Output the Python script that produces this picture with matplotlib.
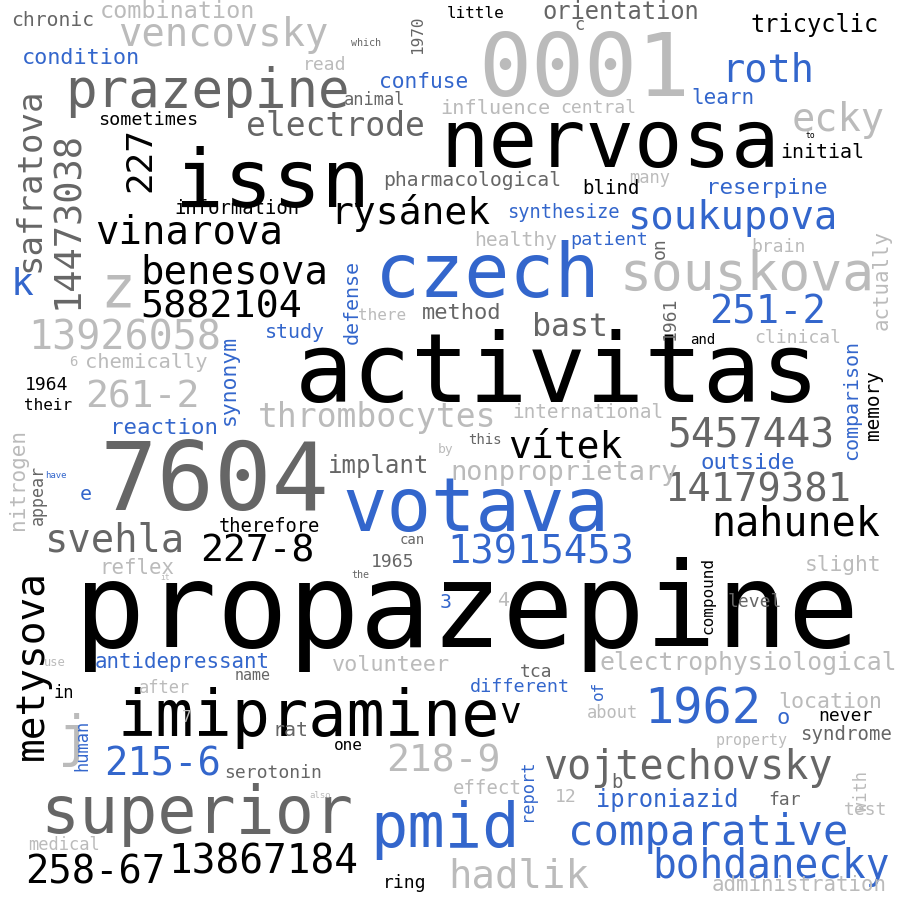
import matplotlib
matplotlib.use("Agg")
import matplotlib.pyplot as plt

BLACK, DARK, LIGHT, BLUE = "#000000", "#666666", "#bbbbbb", "#3366cc"

# word, center x, center y, em size (px), colour, rotation
words = [
    ("propazepine", 467, 615, 118.5, BLACK, 0),
    ("activitas", 557, 375, 97, BLACK, 0),
    ("7604", 215, 483, 95.5, DARK, 0),
    ("0001", 584, 72, 88, LIGHT, 0),
    ("nervosa", 610, 145, 80.7, BLACK, 0),
    ("issn", 272, 185, 81, BLACK, 0),
    ("czech", 488, 277, 75, BLUE, 0),
    ("votava", 476, 510, 74, BLUE, 0),
    ("imipramine", 309, 718, 63.5, BLACK, 0),
    ("superior", 197, 815, 65, DARK, 0),
    ("pmid", 445, 830, 62, BLUE, 0),
    ("prazepine", 207, 92, 52.6, DARK, 0),
    ("souskova", 747, 275, 53, LIGHT, 0),
    ("z", 118, 290, 58, LIGHT, 0),
    ("j", 75, 740, 55, LIGHT, 0),
    ("1962", 703, 710, 48.6, BLUE, 0),
    ("comparative", 708, 833, 42.3, BLUE, 0),
    ("vojtechovsky", 688, 768, 40, DARK, 0),
    ("bohdanecky", 771, 867, 39.5, BLUE, 0),
    ("13867184", 263, 862, 39.5, BLACK, 0),
    ("258-67", 95, 872, 38.8, BLACK, 0),
    ("hadlik", 519, 877, 39, LIGHT, 0),
    ("215-6", 163, 765, 38.9, BLUE, 0),
    ("218-9", 443, 762, 38, LIGHT, 0),
    ("14179381", 758, 490, 38.8, DARK, 0),
    ("nahunek", 796, 524, 40, BLACK, 0),
    ("13915453", 541, 552, 38.8, BLUE, 0),
    ("5457443", 751, 437, 39.6, DARK, 0),
    ("227-8", 257, 551, 38, BLACK, 0),
    ("svehla", 115, 540, 38.8, DARK, 0),
    ("metysova", 32, 665, 39.4, BLACK, 90),
    ("safratova", 30, 180, 34, DARK, 90),
    ("14473038", 68, 220, 37, DARK, 90),
    ("13926058", 125, 338, 40, LIGHT, 0),
    ("261-2", 142, 397, 38, LIGHT, 0),
    ("5882104", 221, 308, 38.4, BLACK, 0),
    ("benesova", 234, 272, 39, BLACK, 0),
    ("vinarova", 189, 232, 39, BLACK, 0),
    ("rysánek", 410, 213, 38, BLACK, 0),
    ("soukupova", 733, 218, 38.8, BLUE, 0),
    ("251-2", 768, 313, 38.9, BLUE, 0),
    ("roth", 768, 70, 38.6, BLUE, 0),
    ("ecky", 838, 120, 38.6, LIGHT, 0),
    ("vencovsky", 223, 35, 38.8, LIGHT, 0),
    ("electrode", 335, 127, 33, DARK, 0),
    ("227", 140, 160, 36, BLACK, 90),
    ("vítek", 565, 448, 38, BLACK, 0),
    ("thrombocytes", 377, 418, 33, LIGHT, 0),
    ("bast", 570, 328, 31.6, DARK, 0),
    ("k", 22, 285, 38, BLUE, 0),
    ("electrophysiological", 748, 663, 24.7, LIGHT, 0),
    ("nonproprietary", 564, 473, 27, LIGHT, 0),
    ("implant", 379, 466, 24, DARK, 0),
    ("method", 462, 313, 22, DARK, 0),
    ("volunteer", 391, 665, 21.8, LIGHT, 0),
    ("antidepressant", 182, 662, 20.8, BLUE, 0),
    ("reaction", 164, 428, 22.4, BLUE, 0),
    ("chemically", 146, 362, 20.4, LIGHT, 0),
    ("synonym", 229, 380, 21.4, BLUE, 90),
    ("defense", 352, 302, 20, BLUE, 90),
    ("study", 295, 332, 20, BLUE, 0),
    ("comparison", 852, 400, 20, BLUE, 90),
    ("memory", 873, 405, 19.4, BLACK, 90),
    ("actually", 882, 280, 20.8, LIGHT, 90),
    ("nitrogen", 18, 480, 21, LIGHT, 90),
    ("appear", 38, 495, 16.6, DARK, 90),
    ("e", 86, 495, 20, BLUE, 0),
    ("1964", 47, 385, 18, BLACK, 0),
    ("their", 48, 405, 16, BLACK, 0),
    ("6", 73, 362, 14, LIGHT, 0),
    ("international", 588, 412, 19.4, LIGHT, 0),
    ("outside", 748, 463, 22.5, BLUE, 0),
    ("reserpine", 767, 188, 22.5, BLUE, 0),
    ("initial", 822, 153, 20, BLACK, 0),
    ("to", 810, 136, 8, BLACK, 0),
    ("learn", 723, 98, 21, BLUE, 0),
    ("tricyclic", 815, 25, 23.6, BLACK, 0),
    ("orientation", 621, 12, 23.7, DARK, 0),
    ("c", 580, 25, 17, DARK, 0),
    ("little", 476, 14, 16, BLACK, 0),
    ("1970", 418, 35, 16, DARK, 90),
    ("which", 366, 43, 10, DARK, 0),
    ("combination", 177, 12, 23.4, LIGHT, 0),
    ("chronic", 53, 20, 19.7, DARK, 0),
    ("condition", 81, 58, 21.8, BLUE, 0),
    ("read", 325, 65, 18, LIGHT, 0),
    ("animal", 375, 100, 17, DARK, 0),
    ("confuse", 424, 82, 21.3, BLUE, 0),
    ("influence", 495, 108, 20.3, LIGHT, 0),
    ("central", 598, 108, 18, LIGHT, 0),
    ("sometimes", 148, 120, 18.5, BLACK, 0),
    ("pharmacological", 472, 180, 19.8, DARK, 0),
    ("blind", 611, 188, 19, BLACK, 0),
    ("many", 650, 178, 17, LIGHT, 0),
    ("information", 237, 208, 18.9, BLACK, 0),
    ("synthesize", 563, 212, 18.8, BLUE, 0),
    ("healthy", 516, 240, 19.7, LIGHT, 0),
    ("patient", 609, 240, 18.5, BLUE, 0),
    ("on", 660, 248, 18, DARK, 90),
    ("brain", 778, 247, 18, LIGHT, 0),
    ("there", 382, 315, 16, LIGHT, 0),
    ("1961", 670, 318, 18, DARK, 90),
    ("clinical", 798, 338, 18, LIGHT, 0),
    ("and", 703, 340, 14, BLACK, 0),
    ("by", 446, 450, 13, LIGHT, 0),
    ("this", 485, 440, 14, DARK, 0),
    ("have", 56, 476, 9, BLUE, 0),
    ("therefore", 269, 527, 18.8, BLACK, 0),
    ("can", 412, 540, 14, DARK, 0),
    ("1965", 393, 562, 18, DARK, 0),
    ("the", 360, 575, 10, DARK, 0),
    ("reflex", 137, 568, 20.8, LIGHT, 0),
    ("it", 165, 578, 8, LIGHT, 0),
    ("3", 446, 602, 20, BLUE, 0),
    ("4", 503, 600, 20, LIGHT, 0),
    ("compound", 708, 596, 16, BLACK, 90),
    ("slight", 843, 565, 21.3, LIGHT, 0),
    ("level", 755, 602, 18, DARK, 0),
    ("tca", 536, 672, 18, DARK, 0),
    ("use", 55, 662, 12, LIGHT, 0),
    ("in", 64, 693, 17, BLACK, 0),
    ("after", 165, 688, 17, LIGHT, 0),
    ("name", 253, 675, 15, DARK, 0),
    ("different", 520, 687, 18.5, BLUE, 0),
    ("of", 598, 690, 16, BLUE, 90),
    ("v", 510, 713, 36, BLACK, 0),
    ("o", 783, 718, 22, BLUE, 0),
    ("location", 830, 702, 21.6, LIGHT, 0),
    ("never", 845, 716, 18, BLACK, 0),
    ("about", 613, 713, 17, LIGHT, 0),
    ("property", 752, 741, 15, LIGHT, 0),
    ("syndrome", 846, 735, 19, DARK, 0),
    ("human", 82, 745, 17, BLUE, 90),
    ("7", 187, 718, 16, LIGHT, 0),
    ("rat", 290, 730, 20, DARK, 0),
    ("one", 348, 745, 16, BLACK, 0),
    ("serotonin", 273, 773, 18, DARK, 0),
    ("also", 320, 795, 9, LIGHT, 0),
    ("report", 527, 790, 17, BLUE, 90),
    ("effect", 487, 788, 19, LIGHT, 0),
    ("b", 617, 782, 19, DARK, 0),
    ("12", 566, 797, 18, LIGHT, 0),
    ("iproniazid", 667, 800, 23.6, BLUE, 0),
    ("with", 862, 792, 17, LIGHT, 90),
    ("far", 785, 800, 18, DARK, 0),
    ("test", 866, 810, 18, LIGHT, 0),
    ("medical", 64, 845, 17, LIGHT, 0),
    ("ring", 405, 883, 18, BLACK, 0),
    ("administration", 799, 885, 20.8, LIGHT, 0),
]

fig = plt.figure(figsize=(9, 9), dpi=100)
ax = fig.add_axes([0, 0, 1, 1])
ax.set_xlim(0, 900)
ax.set_ylim(900, 0)
ax.axis("off")

for w, x, y, em, col, rot in words:
    ax.text(x, y, w, fontsize=em * 0.72, color=col, rotation=rot,
            ha="center", va="center", family="DejaVu Sans Mono")

fig.savefig("out.png", dpi=100, facecolor="white")
